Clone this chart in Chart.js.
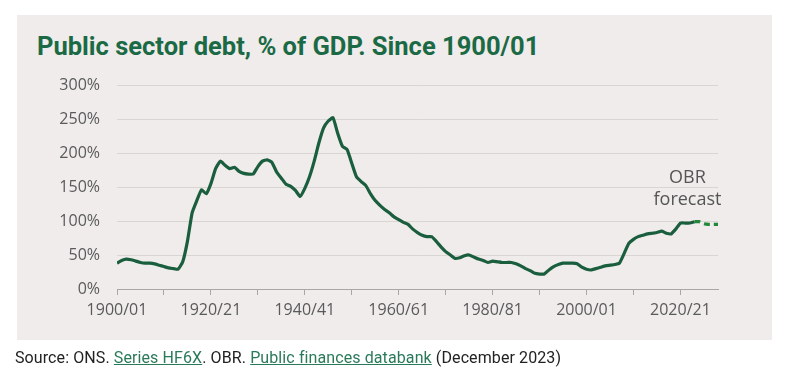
<!DOCTYPE html>
<html lang="en">
<head>
<meta charset="UTF-8" />
<title>public sector debt</title>
<script src="https://cdn.jsdelivr.net/npm/chart.js"></script>
<style>
  body, html {
    margin: 0; padding: 0;
    background: #ffffff;
    width: 800px; height: 392px;
    overflow: hidden;
  }
  .panel {
    position: absolute;
    left: 17px; top: 15px;
    width: 755px; height: 325px;
    background: #efeceb;
  }
  h1 {
    position: absolute;
    left: 37px; top: 31px;
    margin: 0;
    font-family: Roboto, sans-serif;
    font-weight: bold;
    font-size: 25.5px;
    letter-spacing: 0;
    line-height: 30px;
    color: #1b6a45;
    white-space: nowrap;
  }
  .source {
    position: absolute;
    left: 15px; top: 348px;
    margin: 0;
    font-family: Roboto, sans-serif;
    font-size: 16px;
    letter-spacing: 0.1px;
    color: #222;
    white-space: nowrap;
  }
  .source a {
    color: #2a7a5a;
    text-decoration: underline;
  }
  #debtChart {
    position: absolute;
    left: 0; top: 0;
  }
</style>
</head>
<body>
  <div class="panel"></div>
  <h1>Public sector debt, % of GDP. Since 1900/01</h1>
  <canvas id="debtChart" width="800" height="392"></canvas>
  <p class="source">Source: ONS. <a href="#">Series HF6X</a>. OBR. <a href="#">Public finances databank</a> (December 2023)</p>

<script>
  // outturn, % of GDP, one value a year from 1900/01
  const startYear = 1900;
  const debt = [
    38, 42, 44, 43, 41, 39, 38, 38, 37, 35,
    33, 31, 30, 29, 40, 70, 112, 130, 146, 140,
    155, 177, 188, 182, 177, 179, 173, 170, 169, 169,
    180, 188, 190, 186, 172, 163, 154, 151, 145, 136,
    148, 165, 188, 215, 237, 247, 252, 229, 210, 205,
    185, 165, 158, 152, 140, 130, 123, 117, 112, 106,
    102, 98, 95, 88, 83, 79, 77, 77, 70, 62,
    55, 50, 45, 46, 49, 50, 47, 44, 42, 39,
    41, 40, 39, 39, 39, 37, 34, 30, 27, 23,
    22, 22, 28, 33, 36, 38, 38, 38, 37, 32,
    29, 28, 30, 32, 34, 35, 36, 38, 52, 67,
    73, 77, 79, 81, 82, 83, 85, 82, 81, 88,
    97, 97, 97, 99
  ];
  // OBR forecast from 2023/24
  const forecastStart = 2023;
  const forecast = [99, 99, 96, 95, 95, 95];

  const tickLabels = ['1900/01', '1920/21', '1940/41', '1960/61', '1980/81', '2000/01', '2020/21'];
  const yTicks = ['0%', '50%', '100%', '150%', '200%', '250%', '300%'];

  const tickFont = { family: '"Open Sans", sans-serif', size: 16 };
  const tickColor = '#5a5a5a';

  const outturnPts = debt.map((v, i) => ({ x: startYear + i, y: v }));
  const forecastPts = forecast.map((v, i) => ({ x: forecastStart + i, y: v }));

  const noteLabel = {
    id: 'noteLabel',
    afterDatasetsDraw(chart) {
      const ctx = chart.ctx;
      const x = chart.scales.x.getPixelForValue(2021.5);
      const y = chart.scales.y;
      ctx.save();
      ctx.fillStyle = '#555';
      ctx.font = '18px "Open Sans", sans-serif';
      ctx.textAlign = 'center';
      ctx.textBaseline = 'middle';
      ctx.fillText('OBR', x, y.getPixelForValue(163));
      ctx.fillText('forecast', x, y.getPixelForValue(131));
      ctx.restore();
    }
  };

  new Chart(document.getElementById('debtChart'), {
    type: 'line',
    data: {
      datasets: [{
        label: 'Outturn',
        data: outturnPts,
        borderColor: '#1a5e3e',
        borderWidth: 3.2,
        pointRadius: 0,
        tension: 0.15
      }, {
        label: 'OBR forecast',
        data: forecastPts,
        borderColor: '#23873a',
        borderWidth: 3.2,
        borderDash: [6, 4],
        pointRadius: 0,
        tension: 0.15
      }]
    },
    options: {
      responsive: false,
      animation: false,
      devicePixelRatio: 1,
      layout: { padding: { top: 85, right: 82, left: 0, bottom: 0 } },
      plugins: {
        legend: { display: false },
        tooltip: { enabled: false }
      },
      scales: {
        x: {
          type: 'linear',
          min: 1900,
          max: 2028,
          afterFit: s => { s.height = 103; },
          border: { display: true, color: '#a9a7a5', width: 1 },
          grid: { drawOnChartArea: false, drawTicks: true, tickLength: 6, color: '#a9a7a5' },
          ticks: {
            stepSize: 10,
            includeBounds: false,
            maxRotation: 0,
            autoSkip: false,
            padding: 6,
            color: tickColor,
            font: tickFont,
            callback: v => tickLabels.find(t => t.startsWith(String(v))) || ''
          }
        },
        y: {
          min: 0,
          max: 300,
          afterFit: s => { s.width = 117; },
          border: { display: false },
          grid: { color: '#d8d5d3', drawTicks: false },
          ticks: {
            stepSize: 50,
            padding: 17,
            color: tickColor,
            font: tickFont,
            callback: (v, i) => yTicks[i]
          }
        }
      }
    },
    plugins: [noteLabel]
  });
</script>
</body>
</html>
